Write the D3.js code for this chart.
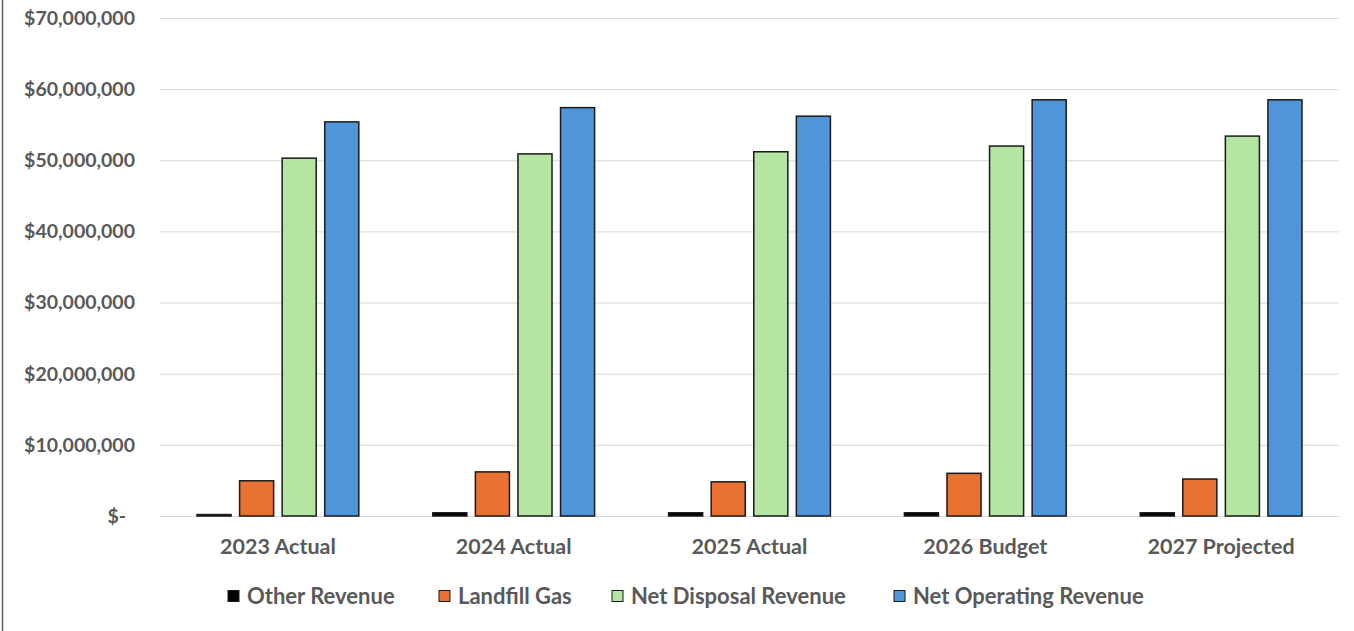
<!DOCTYPE html>
<html>
<head>
<meta charset="utf-8">
<script src="https://cdn.jsdelivr.net/npm/d3@7"></script>
<style>
  body { margin: 0; background: #fff; }
  .chart text { font-family: Lato, "Liberation Sans", sans-serif; font-weight: bold; fill: #595959; }
  .grid line { stroke: #d9d9d9; stroke-width: 1; }
  .grid path { display: none; }
</style>
</head>
<body>
<svg id="chart" class="chart"></svg>
<script>
const categories = ["2023 Actual", "2024 Actual", "2025 Actual", "2026 Budget", "2027 Projected"];
const seriesNames = ["Other Revenue", "Landfill Gas", "Net Disposal Revenue", "Net Operating Revenue"];
const otherRevenue = [200000, 450000, 450000, 450000, 450000];
const landfillGas = [4950000, 6200000, 4800000, 6000000, 5200000];
const netDisposal = [50300000, 50900000, 51200000, 52000000, 53400000];
const netOperating = [55400000, 57400000, 56200000, 58500000, 58500000];
const yTicks = [0, 10000000, 20000000, 30000000, 40000000, 50000000, 60000000, 70000000];
const colors = ["#000000", "#e97132", "#b4e5a2", "#4f95d9"];

const width = 1354, height = 631;
const margin = {top: 18, right: 15, bottom: 115, left: 160};

const seriesValues = [otherRevenue, landfillGas, netDisposal, netOperating];
const data = categories.map((c, i) => ({
  cat: c,
  vals: seriesNames.map((s, j) => ({key: s, value: seriesValues[j][i], idx: j}))
}));

const svg = d3.select("#chart")
  .attr("width", width)
  .attr("height", height);

// frame edge on the left
svg.append("line")
  .attr("x1", 2.5).attr("x2", 2.5)
  .attr("y1", 0).attr("y2", height)
  .attr("stroke", "#595959")
  .attr("stroke-width", 1.5);

const x0 = d3.scaleBand()
  .domain(categories)
  .range([margin.left, width - margin.right])
  .paddingInner(0)
  .paddingOuter(0);

const x1 = d3.scaleBand()
  .domain(seriesNames)
  .range([37, x0.bandwidth() - 37])
  .paddingInner(0.2)
  .paddingOuter(0);

const y = d3.scaleLinear()
  .domain([0, 70000000])
  .range([height - margin.bottom, margin.top]);

// gridlines
svg.append("g")
  .attr("class", "grid")
  .attr("transform", `translate(${margin.left},0)`)
  .call(d3.axisLeft(y)
    .tickValues(yTicks)
    .tickSize(-(width - margin.left - margin.right))
    .tickFormat(""));

// y labels
const fmt = d3.format(",");
svg.append("g")
  .selectAll("text")
  .data(yTicks)
  .join("text")
  .attr("x", d => d === 0 ? 126 : 135)
  .attr("y", d => y(d))
  .attr("dy", "0.35em")
  .attr("text-anchor", "end")
  .style("font-size", "19.5px")
  .text(d => d === 0 ? "$-" : "$" + fmt(d));

// bars
const groups = svg.append("g")
  .selectAll("g")
  .data(data)
  .join("g")
  .attr("transform", d => `translate(${x0(d.cat)},0)`);

groups.selectAll("rect")
  .data(d => d.vals)
  .join("rect")
  .attr("x", d => x1(d.key))
  .attr("width", x1.bandwidth())
  .attr("y", d => y(d.value))
  .attr("height", d => y(0) - y(d.value))
  .attr("fill", d => colors[d.idx])
  .attr("stroke", "#1a1a1a")
  .attr("stroke-width", 1.5);

// category labels
svg.append("g")
  .selectAll("text")
  .data(categories)
  .join("text")
  .attr("x", d => x0(d) + x0.bandwidth() / 2)
  .attr("y", y(0) + 38)
  .attr("text-anchor", "middle")
  .style("font-size", "21.5px")
  .text(d => d);

// legend
const legendX = [228, 439, 612, 894];
const legend = svg.append("g")
  .selectAll("g")
  .data(seriesNames)
  .join("g")
  .attr("transform", (d, i) => `translate(${legendX[i]},596)`);

legend.append("rect")
  .attr("x", 0).attr("y", -5.5)
  .attr("width", 11).attr("height", 11)
  .attr("fill", (d, i) => colors[i])
  .attr("stroke", "#1a1a1a")
  .attr("stroke-width", 1);

legend.append("text")
  .attr("x", 19)
  .attr("dy", "0.35em")
  .style("font-size", "22px")
  .text(d => d);
</script>
</body>
</html>
